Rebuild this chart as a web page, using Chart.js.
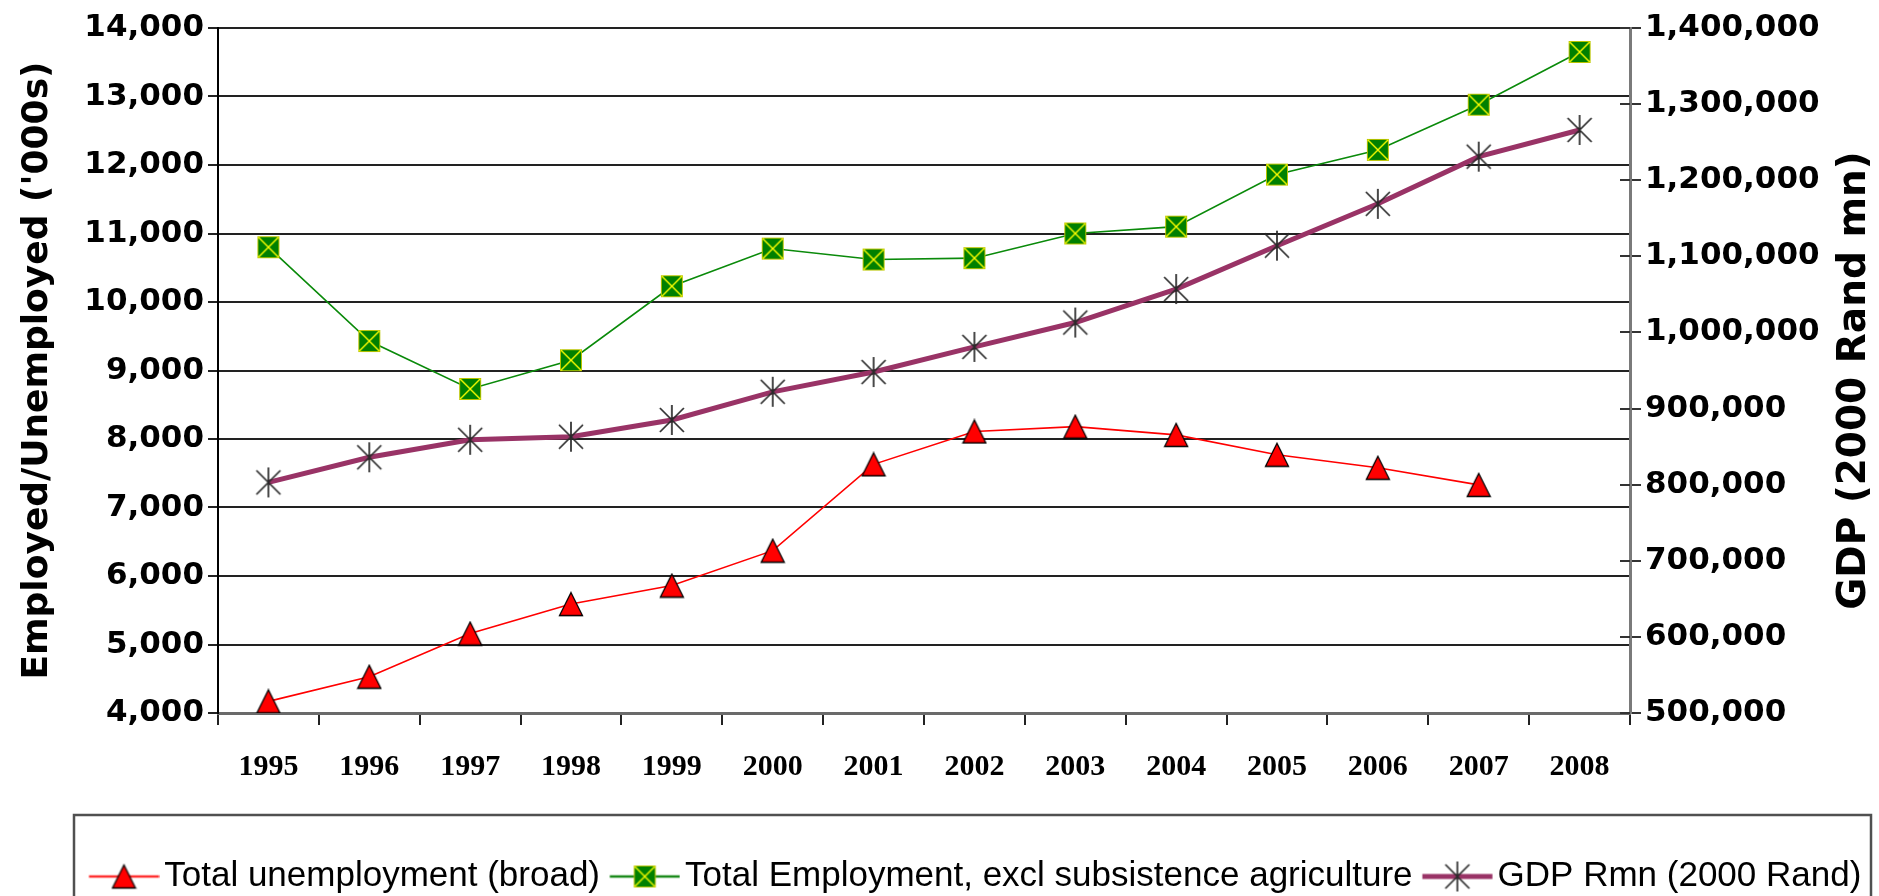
<!DOCTYPE html>
<html>
<head>
<meta charset="utf-8">
<script src="https://cdn.jsdelivr.net/npm/chart.js@4.4.1/dist/chart.umd.min.js"></script>
<style>
  html, body { margin: 0; padding: 0; background: #ffffff; }
  #wrap { width: 1879px; height: 896px; }
</style>
</head>
<body>
<div id="wrap"><canvas id="chart" width="1879" height="896"></canvas></div>
<script>
// ---- data ----
const years = ['1995', '1996', '1997', '1998', '1999', '2000', '2001', '2002', '2003', '2004', '2005', '2006', '2007', '2008'];
const unemploymentBroad = [4170, 4530, 5160, 5590, 5860, 6370, 7630, 8110, 8180, 8060, 7770, 7580, 7330, null];
const employmentExclSubsistence = [10800, 9430, 8730, 9150, 10230, 10780, 10620, 10640, 11000, 11100, 11860, 12220, 12880, 13650];
const gdpRandMn = [803000, 836000, 859000, 863000, 885000, 922000, 948000, 981000, 1013000, 1057000, 1114000, 1169000, 1231000, 1266000];

const seriesNames = ['Total unemployment (broad)', 'Total Employment, excl subsistence agriculture', 'GDP Rmn (2000 Rand)'];
const leftAxisTitle = "Employed/Unemployed ('000s)";
const rightAxisTitle = 'GDP (2000 Rand mn)';
const leftRange = [4000, 14000, 1000];
const rightRange = [500000, 1400000, 100000];

// ---- legend geometry ----
const LEGEND_FONT = 35;            // legend text size
const LEGEND_GAP = 10;             // space between legend entries
const SYMBOL_BOX = 75 - LEGEND_FONT / 2;   // room reserved for each legend symbol
const LINE_LEN = 70;               // length of the sample line in the legend
const SYMBOL_PAD = LEGEND_FONT / 2 - 5;    // blank margin left of the sample line
const SYMBOL_W = Math.round(LEGEND_FONT / 2 + 65);

// ---- marker images ----
function makeCanvas(w, h, draw) {
  const c = document.createElement('canvas');
  c.width = w; c.height = h;
  draw(c.getContext('2d'));
  return c;
}
const triangleMarker = makeCanvas(26, 26, g => {
  g.beginPath();
  g.moveTo(13, 1.5); g.lineTo(24.5, 24.5); g.lineTo(1.5, 24.5); g.closePath();
  g.fillStyle = '#ff0000'; g.fill();
  g.lineWidth = 1.3; g.strokeStyle = '#000000'; g.stroke();
});
const squareMarker = makeCanvas(24, 24, g => {
  g.fillStyle = '#008000'; g.fillRect(1, 1, 22, 22);
  g.strokeStyle = '#b8c400'; g.lineWidth = 1; g.strokeRect(1.5, 1.5, 21, 21);
  g.strokeStyle = '#ffff00'; g.lineWidth = 1.4;
  g.beginPath(); g.moveTo(2, 2); g.lineTo(22, 22); g.moveTo(22, 2); g.lineTo(2, 22); g.stroke();
});
const starMarker = makeCanvas(30, 32, g => {
  g.strokeStyle = '#2a2a2a'; g.lineWidth = 1.7;
  g.beginPath();
  g.moveTo(15, 1); g.lineTo(15, 31);
  g.moveTo(3, 4); g.lineTo(27, 28);
  g.moveTo(27, 4); g.lineTo(3, 28);
  g.stroke();
});
// legend symbol: a short line with the marker in its middle
function legendSymbol(color, width, marker) {
  return makeCanvas(SYMBOL_W, 34, g => {
    const x0 = SYMBOL_PAD, xm = x0 + LINE_LEN / 2;
    g.strokeStyle = color; g.lineWidth = width;
    g.beginPath(); g.moveTo(x0, 17); g.lineTo(x0 + LINE_LEN, 17); g.stroke();
    g.drawImage(marker, xm - marker.width / 2, 17 - marker.height / 2);
  });
}
const legendSymbols = [
  legendSymbol('#ff3030', 2.5, triangleMarker),
  legendSymbol('#1a8a1a', 2.5, squareMarker),
  legendSymbol('#993366', 5, starMarker)
];

const fmt = v => Number(v).toLocaleString('en-US');

// ---- decorations: legend placement and frame, right-axis title, crossing ticks ----
const decorations = {
  id: 'decorations',
  afterLayout(chart) {
    const lg = chart.legend;
    const lw = lg.lineWidths[0];
    const boxX = (lg.left + LEGEND_GAP + lg.right - lw) / 2;
    const firstLine = boxX + SYMBOL_BOX / 2 - SYMBOL_W / 2 + SYMBOL_PAD;
    const shift = 89 - firstLine;
    lg.left += shift;
    lg.right += shift;
  },
  beforeDatasetsDraw(chart) {
    const { ctx, chartArea, scales } = chart;
    ctx.save();
    ctx.strokeStyle = '#333333';
    ctx.lineWidth = 2;
    scales.y1.ticks.forEach(t => {
      const y = Math.round(scales.y1.getPixelForValue(t.value));
      ctx.beginPath();
      ctx.moveTo(chartArea.right - 10, y);
      ctx.lineTo(chartArea.right, y);
      ctx.stroke();
    });
    ctx.restore();
  },
  afterDraw(chart) {
    const { ctx, chartArea, scales } = chart;
    ctx.save();
    // legend frame
    ctx.strokeStyle = '#505050';
    ctx.lineWidth = 2.5;
    ctx.strokeRect(74, 815, 1797, 200);
    // right axis title, reading upward
    ctx.translate(scales.y1.right - 24, (chartArea.top + chartArea.bottom) / 2 + 10);
    ctx.rotate(-Math.PI / 2);
    ctx.font = 'bold 39px "DejaVu Sans"';
    ctx.fillStyle = '#000000';
    ctx.textAlign = 'center';
    ctx.textBaseline = 'middle';
    ctx.fillText(rightAxisTitle, 0, 0);
    ctx.restore();
  }
};

const tickFont = { family: 'DejaVu Sans', size: 31, weight: 'bold' };

new Chart(document.getElementById('chart'), {
  type: 'line',
  data: {
    labels: years,
    datasets: [
      {
        label: seriesNames[0],
        data: unemploymentBroad,
        yAxisID: 'y',
        borderColor: '#ff0000',
        borderWidth: 1.6,
        pointStyle: triangleMarker,
        pointRadius: 12,
        tension: 0
      },
      {
        label: seriesNames[1],
        data: employmentExclSubsistence,
        yAxisID: 'y',
        borderColor: '#0a8a0a',
        borderWidth: 1.6,
        pointStyle: squareMarker,
        pointRadius: 12,
        tension: 0
      },
      {
        label: seriesNames[2],
        data: gdpRandMn,
        yAxisID: 'y1',
        borderColor: '#993366',
        borderWidth: 5,
        pointStyle: starMarker,
        pointRadius: 14,
        tension: 0
      }
    ]
  },
  options: {
    responsive: false,
    animation: false,
    devicePixelRatio: 1,
    layout: { padding: { top: 28, left: 0, right: 0, bottom: -8 } },
    plugins: {
      tooltip: { enabled: false },
      legend: {
        position: 'bottom',
        labels: {
          usePointStyle: true,
          pointStyleWidth: SYMBOL_BOX,
          padding: LEGEND_GAP,
          color: '#000000',
          font: { family: '"Liberation Sans"', size: LEGEND_FONT },
          generateLabels: chart => chart.data.datasets.map((ds, i) => ({
            text: ds.label,
            pointStyle: legendSymbols[i],
            datasetIndex: i,
            hidden: false,
            lineWidth: 0,
            fontColor: '#000000',
            strokeStyle: 'rgba(0,0,0,0)',
            fillStyle: 'rgba(0,0,0,0)'
          }))
        }
      }
    },
    scales: {
      x: {
        offset: true,
        grid: { display: true, drawOnChartArea: false, offset: true, tickLength: 12, color: '#222222', lineWidth: 2 },
        border: { display: true, color: '#6a6a6a', width: 3 },
        ticks: {
          color: '#000000',
          font: { family: 'Liberation Serif', size: 30, weight: 'bold' },
          padding: 24,
          maxRotation: 0,
          autoSkip: false
        },
        afterFit: s => { s.height = 171 - LEGEND_FONT; }
      },
      y: {
        position: 'left',
        min: leftRange[0],
        max: leftRange[1],
        grid: { color: '#222222', lineWidth: 2, tickLength: 10 },
        border: { color: '#000000', width: 2 },
        ticks: { stepSize: leftRange[2], color: '#000000', font: tickFont, padding: 4, callback: v => fmt(v) },
        title: {
          display: true,
          text: leftAxisTitle,
          color: '#000000',
          font: { family: 'DejaVu Sans', size: 36, weight: 'bold' },
          padding: { top: 16, bottom: 0 }
        },
        afterFit: s => { s.width = 218; }
      },
      y1: {
        position: 'right',
        min: rightRange[0],
        max: rightRange[1],
        grid: { display: true, drawOnChartArea: false, tickLength: 11, color: '#333333', lineWidth: 2 },
        border: { color: '#7a7a7a', width: 3 },
        ticks: { stepSize: rightRange[2], color: '#000000', font: tickFont, padding: 4, callback: v => fmt(v) },
        afterFit: s => { s.width = 249; }
      }
    }
  },
  plugins: [decorations]
});
</script>
</body>
</html>
